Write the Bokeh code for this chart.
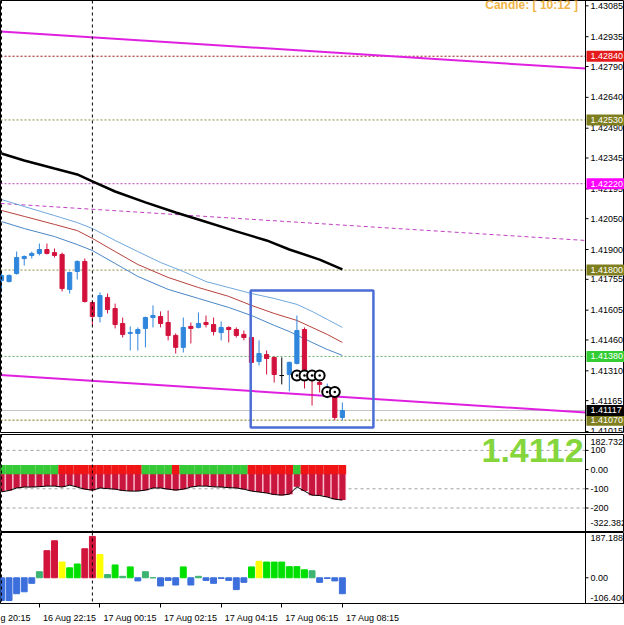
from bokeh.plotting import figure
from bokeh.layouts import column
from bokeh.models import Range1d, Span, FixedTicker, ColumnDataSource
from bokeh.embed import file_html
from bokeh.resources import INLINE
from bokeh.core.properties import value

# ---------------- data ----------------
bar_index = list(range(46))
open_ = [1.41749, 1.41744, 1.41783, 1.41856, 1.41871, 1.41881, 1.41900, 1.41885, 1.41876, 1.41706,
         1.41793, 1.41842, 1.41642, 1.41574, 1.41667, 1.41613, 1.41540, 1.41492, 1.41492, 1.41516,
         1.41569, 1.41574, 1.41545, 1.41482, 1.41424, 1.41526, 1.41521, 1.41545, 1.41535, 1.41496,
         1.41521, 1.41511, 1.41487, 1.41472, 1.41355, 1.41389, 1.41375, 1.41287, 1.41292, 1.41346,
         1.41511, 1.41283, 1.41253, 1.41205, 1.41214, 1.41083]
high = [1.41788, 1.41778, 1.41890, 1.41871, 1.41890, 1.41929, 1.41929, 1.41905, 1.41885, 1.41793,
        1.41847, 1.41856, 1.41652, 1.41691, 1.41686, 1.41637, 1.41569, 1.41526, 1.41521, 1.41574,
        1.41628, 1.41599, 1.41603, 1.41492, 1.41569, 1.41545, 1.41594, 1.41579, 1.41569, 1.41550,
        1.41526, 1.41521, 1.41506, 1.41482, 1.41458, 1.41409, 1.41380, 1.41375, 1.41355, 1.41579,
        1.41521, 1.41302, 1.41287, 1.41248, 1.41229, 1.41156]
low = [1.41691, 1.41740, 1.41778, 1.41822, 1.41856, 1.41871, 1.41876, 1.41861, 1.41696, 1.41686,
       1.41754, 1.41642, 1.41531, 1.41545, 1.41589, 1.41516, 1.41472, 1.41409, 1.41409, 1.41424,
       1.41521, 1.41521, 1.41458, 1.41394, 1.41399, 1.41443, 1.41516, 1.41521, 1.41482, 1.41458,
       1.41448, 1.41472, 1.41458, 1.41341, 1.41336, 1.41292, 1.41253, 1.41244, 1.41210, 1.41341,
       1.41224, 1.41141, 1.41205, 1.41176, 1.41069, 1.41069]
close = [1.41774, 1.41774, 1.41861, 1.41866, 1.41881, 1.41900, 1.41881, 1.41871, 1.41710, 1.41788,
         1.41842, 1.41647, 1.41574, 1.41676, 1.41608, 1.41535, 1.41487, 1.41496, 1.41511, 1.41569,
         1.41579, 1.41540, 1.41482, 1.41424, 1.41521, 1.41516, 1.41540, 1.41535, 1.41501, 1.41521,
         1.41511, 1.41482, 1.41472, 1.41351, 1.41394, 1.41370, 1.41292, 1.41287, 1.41351, 1.41506,
         1.41292, 1.41263, 1.41244, 1.41224, 1.41083, 1.41117]

slow_ma_idx = [0, 3, 7, 10, 12, 15, 19, 23, 26, 31, 35, 38, 42, 45]
slow_ma_val = [1.42367, 1.42333, 1.42294, 1.42265, 1.42231, 1.42182, 1.42129, 1.42080, 1.42046,
               1.41988, 1.41944, 1.41900, 1.41851, 1.41803]
upper_band_idx = [0, 3, 7, 10, 12, 15, 18, 21, 24, 27, 30, 33, 36, 39, 41, 43, 45]
upper_band_val = [1.42143, 1.42109, 1.42065, 1.42031, 1.42002, 1.41944, 1.41890, 1.41837, 1.41793,
                  1.41744, 1.41715, 1.41686, 1.41662, 1.41633, 1.41599, 1.41560, 1.41521]
mid_band_idx = [0, 3, 7, 10, 12, 15, 18, 22, 26, 30, 33, 36, 39, 41, 43, 45]
mid_band_val = [1.42090, 1.42061, 1.42022, 1.41992, 1.41954, 1.41890, 1.41827, 1.41764, 1.41715,
                1.41672, 1.41628, 1.41589, 1.41555, 1.41521, 1.41487, 1.41448]
lower_band_idx = [0, 3, 7, 10, 12, 15, 18, 22, 26, 30, 33, 36, 38, 41, 43, 45]
lower_band_val = [1.42036, 1.42002, 1.41963, 1.41924, 1.41895, 1.41832, 1.41769, 1.41706, 1.41662,
                  1.41618, 1.41579, 1.41531, 1.41501, 1.41448, 1.41414, 1.41385]

# channel lines: price at the left edge / right edge of the chart
channel_upper = [1.42960, 1.42780]
channel_lower = [1.41290, 1.41107]
channel_mid = [1.42124, 1.41944]

level_prices = [1.42840, 1.42530, 1.42220, 1.41800, 1.41380, 1.41070]
level_line_colors = ["#a01010", "#8c8c40", "#c040c0", "#8c8c40", "#60b060", "#707010"]
level_box_colors = ["#e41b1b", "#7e7e1e", "#ff00ff", "#7e7e1e", "#33cc33", "#7e7e1e"]
bid_price = 1.41117

price_ticks = [1.43085, 1.42935, 1.42790, 1.42640, 1.42490, 1.42345, 1.42195, 1.42050,
               1.41900, 1.41755, 1.41605, 1.41460, 1.41310, 1.41165, 1.41015]

signal_idx = [39, 40, 41, 42, 43, 44]
signal_price = [1.41287, 1.41287, 1.41287, 1.41287, 1.41207, 1.41207]

zone_left, zone_right = 32.9, 49.1
zone_bottom, zone_top = 1.41034, 1.41701

cci_vals = [-116, -109, -96, -91, -91, -89, -86, -86, -91, -81, -91, -102, -107, -96, -99, -102,
            -109, -112, -112, -107, -96, -96, -102, -107, -102, -91, -86, -86, -90, -91, -94, -96,
            -102, -112, -117, -122, -130, -133, -128, -90, -112, -133, -135, -143, -154, -159]
trend_state = list("GGGGGGGG" + "RRRRRRRRRRR" + "GGGG" + "R" + "GGGGGGGGG" + "RRRRRR" + "G" + "RRRRRR")
cci_levels = [100, -100, -200]
cci_tick_vals = [146, 100, 0, -100, -200, -276]
cci_tick_text = ["182.7323", "100", "0.00", "-100", "-200", "-322.382"]

osc_vals = [-94, -94, -66, -58, -23, 25, 112, 153, 65, 41, 57, 120, 171, 96, 13, 53, 6, 45, -13, 25,
            0, -34, -11, -30, 45, -30, 6, -11, -23, -3, -11, -49, -19, 45, 68, 65, 65, 65, 46, 46,
            33, 29, -19, -3, -13, -66]
osc_state = list("BBBBBTRRYGGRRYTGTGBTTBBBGBTBBBBBBGYGGGGGGTBBBB")
osc_tick_vals = [163, 0, -82]
osc_tick_text = ["187.1882", "0.00", "-106.400"]

time_ticks = [-3, 5, 13, 21, 29, 37, 45]
time_labels = ["g 20:15", "16 Aug 22:15", "17 Aug 00:15", "17 Aug 02:15",
               "17 Aug 04:15", "17 Aug 06:15", "17 Aug 08:15"]
day_separators = [0, 12]

# ---------------- styling / geometry ----------------
FONT = "Liberation Sans"
PX = 7.575                      # pixels per bar
X_START = -0.13
X_AXIS = X_START + 585 / PX     # price-scale line
X_END = X_START + 624 / PX
BULL, BEAR = "#2f86dc", "#d2123c"
x_range = Range1d(X_START, X_END)


def make_fig(height, y_range, border_bottom, with_x_axis=False):
    p = figure(width=624, height=height, x_range=x_range, y_range=y_range,
               output_backend="svg", toolbar_location=None,
               x_axis_location="below" if with_x_axis else None, y_axis_location=None,
               min_border_left=0, min_border_right=0, min_border_top=0,
               min_border_bottom=border_bottom)
    p.grid.visible = False
    p.outline_line_color = "black"
    p.background_fill_color = "white"
    p.border_fill_color = "white"
    for loc in day_separators:
        p.add_layout(Span(location=loc, dimension="height", line_color="black",
                          line_dash="3 3", line_width=1))
    p.add_layout(Span(location=X_AXIS, dimension="height", line_color="black", line_width=1))
    return p


def price_scale(p, vals, texts, tick_vals):
    p.ray(x=[X_AXIS] * len(tick_vals), y=tick_vals, length=3, length_units="screen",
          angle=0, line_color="black", line_width=1)
    p.text(x=[X_AXIS] * len(vals), y=vals, text=texts, x_offset=5, text_font=value(FONT),
           text_font_size="9px", text_color="black", text_align="left", text_baseline="middle")


def price_boxes(p, prices, colors):
    p.rect(x=[X_AXIS + 20 / PX] * len(prices), y=prices, width=38, height=11,
           width_units="screen", height_units="screen", fill_color=colors, line_color=None)
    p.text(x=[X_AXIS] * len(prices), y=prices, text=[f"{v:.5f}" for v in prices], x_offset=5,
           text_font=value(FONT), text_font_size="9px", text_color="white",
           text_align="left", text_baseline="middle")


# ---------------- main price chart ----------------
p1 = make_fig(434, Range1d(1.41010, 1.43111), 2)

for price, col in zip(level_prices, level_line_colors):
    p1.line([X_START, X_AXIS], [price, price], line_color=col, line_dash="2 2", line_width=1)
p1.line([X_START, X_AXIS], [bid_price, bid_price], line_color="#c4c4c4", line_width=1)

p1.line([X_START, X_AXIS], channel_upper, line_color="#e020e0", line_width=2)
p1.line([X_START, X_AXIS], channel_lower, line_color="#e020e0", line_width=2)
p1.line([X_START, X_AXIS], channel_mid, line_color="#c040c0", line_width=1, line_dash="4 3")

p1.line(slow_ma_idx, slow_ma_val, line_color="black", line_width=2.5)
p1.line(upper_band_idx, upper_band_val, line_color="#6fa8dc", line_width=1)
p1.line(mid_band_idx, mid_band_val, line_color="#b5423c", line_width=1)
p1.line(lower_band_idx, lower_band_val, line_color="#4a86c5", line_width=1)

colors = [BULL if c > o else (BEAR if c < o else "black") for o, c in zip(open_, close)]
src = ColumnDataSource(dict(x=bar_index, h=high, l=low,
                            top=[max(o, c) for o, c in zip(open_, close)],
                            bottom=[min(o, c) for o, c in zip(open_, close)],
                            color=colors))
p1.segment(x0="x", y0="h", x1="x", y1="l", line_color="color", line_width=1, source=src)
p1.vbar(x="x", width=0.55, top="top", bottom="bottom", fill_color="color",
        line_color="color", line_width=1, source=src)

p1.quad(left=[zone_left], right=[zone_right], bottom=[zone_bottom], top=[zone_top],
        fill_color=None, line_color="#4b6ed6", line_width=2.5)

p1.scatter(signal_idx, signal_price, marker="circle_dot", size=10, line_color="black",
           line_width=2, fill_color="white")

p1.text(x=[X_AXIS - 1.0], y=[1.43087], text=["Candle: [ 10:12 ]"], text_font=value(FONT),
        text_font_size="12px", text_font_style="bold", text_color="#f0b448",
        text_align="right", text_baseline="alphabetic")

price_scale(p1, price_ticks, [f"{t:.5f}" for t in price_ticks], price_ticks)
price_boxes(p1, level_prices + [bid_price], level_box_colors + ["black"])

# ---------------- indicator 1 ----------------
p2 = make_fig(98, Range1d(-322.382, 182.7323), 1)
for lv in cci_levels:
    p2.line([X_START, X_AXIS], [lv, lv], line_color="#a0a0a0", line_dash="3 3", line_width=1)
p2.vbar(x=bar_index, width=1.0, top=0, bottom=cci_vals, fill_color="#f4a6bc", line_color=None)
p2.vbar(x=bar_index, width=0.78, top=0, bottom=cci_vals, fill_color="#c8163e", line_color=None)
p2.line(bar_index, cci_vals, line_color="black", line_width=1)
strip_colors = ["#35c935" if s == "G" else "#f01414" for s in trend_state]
p2.quad(left=[i - 0.5 for i in bar_index], right=[i + 0.5 for i in bar_index],
        bottom=-24, top=24, fill_color=strip_colors, line_color=None)
p2.text(x=[X_AXIS - 0.25], y=[99.5], text=["1.4112"], text_font=value(FONT),
        text_font_size="34px", text_font_style="bold", text_color="#84d63c",
        text_align="right", text_baseline="middle")
price_scale(p2, cci_tick_vals, cci_tick_text, [100, 0, -100, -200])

# ---------------- indicator 2 ----------------
p3 = make_fig(93, Range1d(-106.4, 187.1882), 18, with_x_axis=True)
osc_palette = {"B": "#3d6fdc", "T": "#3cb371", "R": "#d2143c", "Y": "#ffff00", "G": "#00e000"}
p3.vbar(x=bar_index, width=0.78, top=osc_vals, bottom=0,
        fill_color=[osc_palette[s] for s in osc_state],
        line_color=[osc_palette[s] for s in osc_state], line_width=1)
price_scale(p3, osc_tick_vals, osc_tick_text, [0])

xa = p3.xaxis[0]
label_pos = [t + 4 for t in time_ticks]
xa.ticker = FixedTicker(ticks=label_pos, minor_ticks=time_ticks)
xa.major_label_overrides = {lp: lab for lp, lab in zip(label_pos, time_labels)}
xa.major_tick_out = 0
xa.major_tick_in = 0
xa.minor_tick_out = 4
xa.minor_tick_in = 0
xa.major_label_standoff = 5
xa.major_label_text_font = FONT
xa.major_label_text_font_size = "9px"
xa.major_label_text_color = "black"
xa.axis_line_color = "black"

layout = column(p1, p2, p3, spacing=0)
open("out.html", "w").write(file_html(layout, INLINE))
